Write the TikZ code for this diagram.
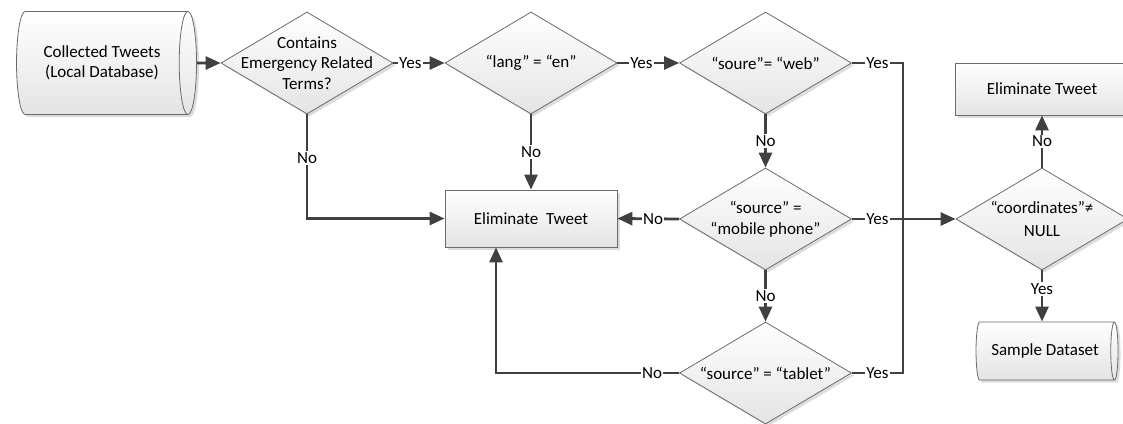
\documentclass[tikz,border=0pt]{standalone}
\usepackage{fontspec}
\setmainfont{Carlito}
\usetikzlibrary{shapes.geometric,arrows.meta,shadows}

\definecolor{linegray}{HTML}{404040}
\definecolor{bordergray}{HTML}{6B6B6B}
\definecolor{fillbottom}{HTML}{E4E4E4}
\definecolor{shadowgray}{HTML}{DCDCDC}

\newcommand\diafont{\fontsize{17}{20.5}\selectfont}

\tikzset{
  base/.style={draw=bordergray, line width=0.8pt, top color=white,
    bottom color=fillbottom, inner sep=0pt, font=\diafont, align=center,
    drop shadow={shadow xshift=2.5pt, shadow yshift=-2.5pt,
      fill=shadowgray, opacity=1}},
  decision/.style={base, diamond, minimum width=172pt, minimum height=102pt},
  dtext/.style={font=\diafont, align=center, inner sep=0pt},
  process/.style={base, rectangle, minimum width=172pt},
  store/.style={base, cylinder, shape aspect=0.5},
  conn/.style={draw=linegray, line width=2.8pt},
  arr/.style={conn, -{Triangle[length=15pt,width=13pt]}},
  lbl/.style={fill=white, inner sep=1.2pt, font=\diafont, text=black}
}

\begin{document}
\begin{tikzpicture}[x=1pt, y=-1pt]
  \useasboundingbox (0,0) rectangle (1123,423);
  \clip (0,0) rectangle (1123,423);

  % data stores
  \node[store, minimum width=103pt, minimum height=180pt] (db) at (102,63)
    {Collected Tweets\\(Local Database)};
  \node[store, minimum width=58pt, minimum height=142pt] (sample) at (1045,351)
    {Sample Dataset};

  % decisions
  \node[decision, label={[dtext]center:Contains\\Emergency Related\\Terms?}]
    (d1) at (307,63) {};
  \node[decision, label={[dtext]center:“lang” = “en”}] (d2) at (531,63) {};
  \node[decision, label={[dtext]center:“soure”= “web”}] (d3) at (765.5,63) {};
  \node[decision, label={[dtext]center:“source” =\\“mobile phone”}]
    (mob) at (765.5,219) {};
  \node[decision, label={[dtext]center:“source” = “tablet”}]
    (tab) at (765.5,373) {};
  \node[decision, label={[dtext]center:“coordinates”≠\\[3pt]NULL}]
    (coord) at (1042,219) {};

  % processes
  \node[process, minimum height=57pt] (elim) at (531,218.5) {Eliminate~ Tweet};
  \node[process, minimum width=174pt, minimum height=52pt] (elim2) at (1042,89)
    {Eliminate Tweet};

  % merge point of the "Yes" branches
  \coordinate (jx) at (903,219);

  % connectors
  \draw[arr] (db.east) -- (d1.west);
  \draw[arr] (d1.east) -- node[lbl, pos=0.33] {Yes} (d2.west);
  \draw[arr] (d2.east) -- node[lbl, pos=0.39] {Yes} (d3.west);
  \draw[arr] (d1.south) |- node[lbl, pos=0.21] {No} (elim.west);
  \draw[arr] (d2.south) -- node[lbl] {No} (elim.north);
  \draw[arr] (d3.south) -- node[lbl] {No} (mob.north);
  \draw[arr] (mob.west) -- node[lbl, pos=0.42] {No} (elim.east);
  \draw[arr] (mob.south) -- node[lbl] {No} (tab.north);
  \draw[arr] (tab.west) -| node[lbl, pos=0.074] {No} ([xshift=-35pt]elim.south);

  \draw[conn] (d3.east) -- node[lbl] {Yes} (d3.east -| jx) -- (jx);
  \draw[conn] (tab.east) -- node[lbl] {Yes} (tab.east -| jx) -- (jx);
  \draw[arr] (mob.east) -- node[lbl] {Yes} (jx) -- (coord.west);

  \draw[arr] (coord.north) -- node[lbl] {No} (elim2.south);
  \draw[arr] (coord.south) -- node[lbl, pos=0.36] {Yes} (coord.south |- sample.north);
\end{tikzpicture}
\end{document}
